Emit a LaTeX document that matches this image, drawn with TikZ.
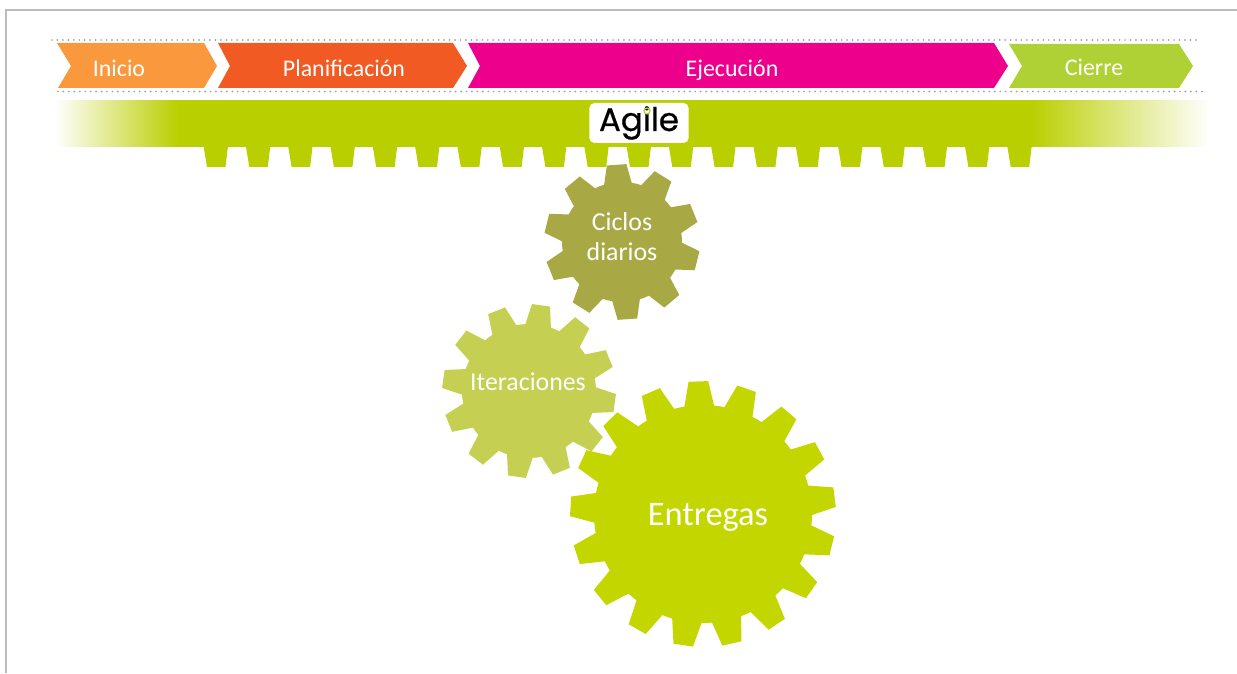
\documentclass[tikz,border=0pt]{standalone}
\usepackage{fontspec}
\setmainfont{Carlito}
\newfontfamily\logofont[FakeBold=0.6]{Poppins}
\usetikzlibrary{positioning, calc}
\definecolor{inicioc}{HTML}{F9983C}
\definecolor{planc}{HTML}{F15A22}
\definecolor{ejecc}{HTML}{EC008C}
\definecolor{cierrec}{HTML}{AFD136}
\definecolor{bandc}{HTML}{BACF00}
\definecolor{cicloc}{HTML}{A8A944}
\definecolor{iterc}{HTML}{C5CF52}
\definecolor{entregac}{HTML}{C3D600}
\definecolor{framec}{HTML}{BBBBBB}
\definecolor{dotc}{HTML}{9AA0A8}
% x, y, teeth, offset, root radius, tip radius, colour
\newcommand{\gearshape}[7]{
    \fill[#7,shift={(#1,#2)}] ({#4-(360/#3)*0.37}:#5)
        \foreach \t [evaluate=\t as \a using #4+(\t-1)*360/#3] in {1,...,#3} {
            -- ({\a-(360/#3)*0.37}:#5) -- ({\a-(360/#3)*0.2}:#6)
            -- ({\a+(360/#3)*0.2}:#6) -- ({\a+(360/#3)*0.37}:#5)
            arc[start angle={\a+(360/#3)*0.37}, end angle={\a+(360/#3)*0.63}, radius=#5]
        } -- cycle;
}
\tikzset{style={font=\normalsize}}

\begin{document}
\begin{tikzpicture}[
            x=0.02cm, y=0.02cm,
            phase/.style={text=white, font=\fontsize{13.6}{15}\selectfont},
            dotline/.style={dotc, line width=1.1pt, line cap=round, dash pattern=on 0pt off 3.1pt},
            cog/.style={text=white, align=center, font=\fontsize{14.7}{17}\selectfont},
        ]
        \useasboundingbox (0,0) rectangle (1237,673);
        % frame
        \coordinate (fa) at (6,0);
        \coordinate (fb) at (6,663);
        \coordinate (fc) at (1237,663);
        \draw[framec, line width=1.2pt] (fa) -- (fb) -- (fc);
        % dotted rules
        \coordinate (da) at (52,633);
        \coordinate (db) at (1196,633);
        \coordinate (dc) at (58,581.5);
        \coordinate (dd) at (1203,581.5);
        \draw[dotline] (da) -- (db);
        \draw[dotline] (dc) -- (dd);
        % phases
        \fill[inicioc] (57,630) -- (204,630) -- (217,607) -- (204,585) -- (58,585) -- (71,607) -- cycle;
        \fill[planc] (218,630) -- (453,630) -- (467,607) -- (453,585) -- (218,585) -- (230,607) -- cycle;
        \fill[ejecc] (468,630) -- (994,630) -- (1008,607) -- (994,585) -- (468,585) -- (480,607) -- cycle;
        \fill[cierrec] (1009,629) -- (1179,629) -- (1193,607) -- (1179,585) -- (1009,585) -- (1022,607) -- cycle;
        \node[phase] (inicio) at (119,605) {Inicio};
        \node[phase] (plan) at (344,605) {Planificación};
        \node[phase] (ejec) at (732,603) {Ejecución};
        \node[phase] (cierre) at (1094,606) {Cierre};
        % band
        \fill[bandc] (177,573) rectangle (1031,526);
        \shade[left color=white, right color=bandc] (55,572.4) rectangle (178,526.6);
        \shade[left color=bandc, right color=white] (1030,572.4) rectangle (1210,526.6);
        \foreach \n in {0,...,19} {
            \fill[bandc] ({203.5+42.3*\n},527) -- ({228+42.3*\n},527) -- ({225.5+42.3*\n},506) -- ({207+42.3*\n},506) -- cycle;
        }
        % logo
        \node[fill=white, rounded corners=3pt, minimum width=1.99cm, minimum height=0.8cm, inner sep=0pt,
              font=\logofont\fontsize{18.5}{20}\selectfont] (agile) at (639,550) {\raisebox{-3.5pt}{Agile}};
        \draw[cierrec, line width=0.7pt] (647,562) circle (3);
        % gears
        \gearshape{622}{431}{10}{94}{60}{78}{cicloc}
        \gearshape{529}{282}{12}{82}{67}{87}{iterc}
        \gearshape{703}{159}{17}{92}{109}{133}{entregac}
        \node[cog] (ciclos) at (622,436) {Ciclos\\diarios};
        \node[cog] (iter) at (528,291) {Iteraciones};
        \node[cog, font=\fontsize{19.6}{22}\selectfont] (entregas) at (708,156) {Entregas};
        \end{tikzpicture}
\end{document}
